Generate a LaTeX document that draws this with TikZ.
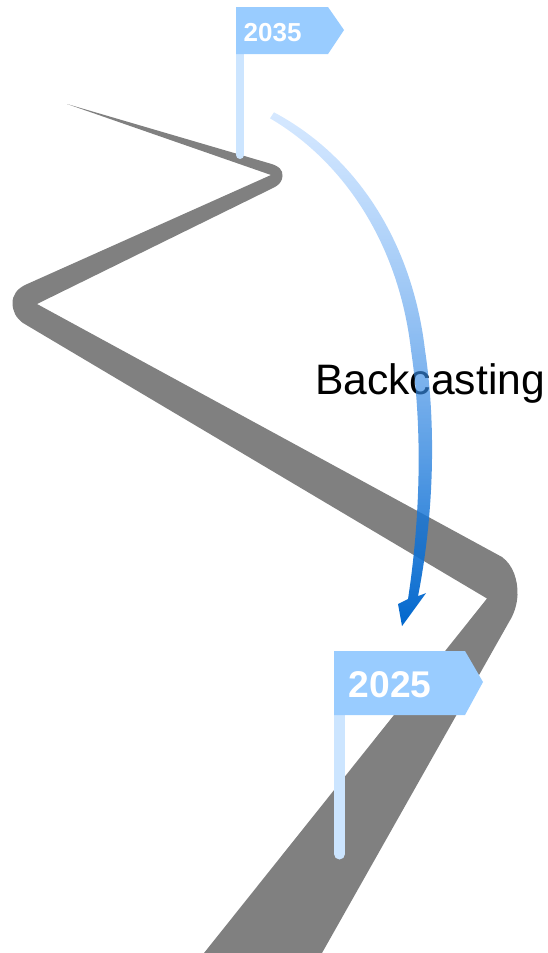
\documentclass[tikz,border=0pt]{standalone}
\usepackage{fontspec}
\setmainfont{Liberation Sans}
\usetikzlibrary{fadings}
\definecolor{road}{HTML}{808080}
\definecolor{flagblue}{HTML}{99CCFF}
\definecolor{poleblue}{HTML}{CCE5FF}
\definecolor{arrowtop}{HTML}{76B4FF}
\definecolor{arrowmid}{HTML}{2A86E4}
\definecolor{arrowend}{HTML}{0066CC}
\tikzfading[name=arrowfade, top color=transparent!70, bottom color=transparent!0]
\tikzset{
  roadshape/.style={fill=road},
  flagshape/.style={fill=flagblue},
  polestyle/.style={draw=poleblue,line cap=round},
  flaglabel/.style={anchor=base west,inner sep=0pt,text=white,font=\bfseries\fontsize{#1}{#1}\selectfont},
  caption/.style={anchor=base west,inner sep=0pt,text=black,font=\fontsize{42.6}{42.6}\selectfont},
}
\begin{document}
\begin{tikzpicture}[x=1pt,y=-1pt]
\useasboundingbox (0,0) rectangle (547,953);
% road
\path[roadshape] (67,104) -- (270,163.5) .. controls (279,166) and (283,170) .. (282.5,176)
  .. controls (282,181) and (280,184) .. (275,187) -- (37,304) -- (502,557)
  .. controls (513,565) and (518,580) .. (517.5,595) .. controls (517,605) and (514,614) .. (509,622)
  -- (322,953) -- (204,953) -- (487,598.5) -- (23,323)
  .. controls (16,318) and (12.5,311) .. (12.5,303) .. controls (12.5,295) and (17,289) .. (25,285)
  -- (271,175) -- cycle;
% poles
\draw[polestyle,line width=8pt] (240,40) -- (240,155);
\draw[polestyle,line width=11pt] (339.5,700) -- (339.5,854);
% flags
\path[flagshape] (236,7) -- (328,7) -- (344,30) -- (328,54) -- (236,54) -- cycle;
\path[flagshape] (334,651) -- (465,651) -- (483,682) -- (465,715) -- (334,715) -- cycle;
\node[flaglabel=26] (y2035) at (243.5,41) {2035};
\node[flaglabel=37.2] (y2025) at (348.5,697) {2025};
\node[caption] (backcasting) at (315,394.5) {Backcasting};
% arrow
\path[top color=arrowtop,middle color=arrowmid,bottom color=arrowend,path fading=arrowfade]
  (274,112) .. controls (355,155) and (412,240) .. (425,350)
  .. controls (437,430) and (433,520) .. (418,596)
  -- (426,593) -- (402,626) -- (398,604) -- (408,599)
  .. controls (420,520) and (423,430) .. (411,350)
  .. controls (399,245) and (345,162) .. (270,118) -- cycle;
\end{tikzpicture}
\end{document}
